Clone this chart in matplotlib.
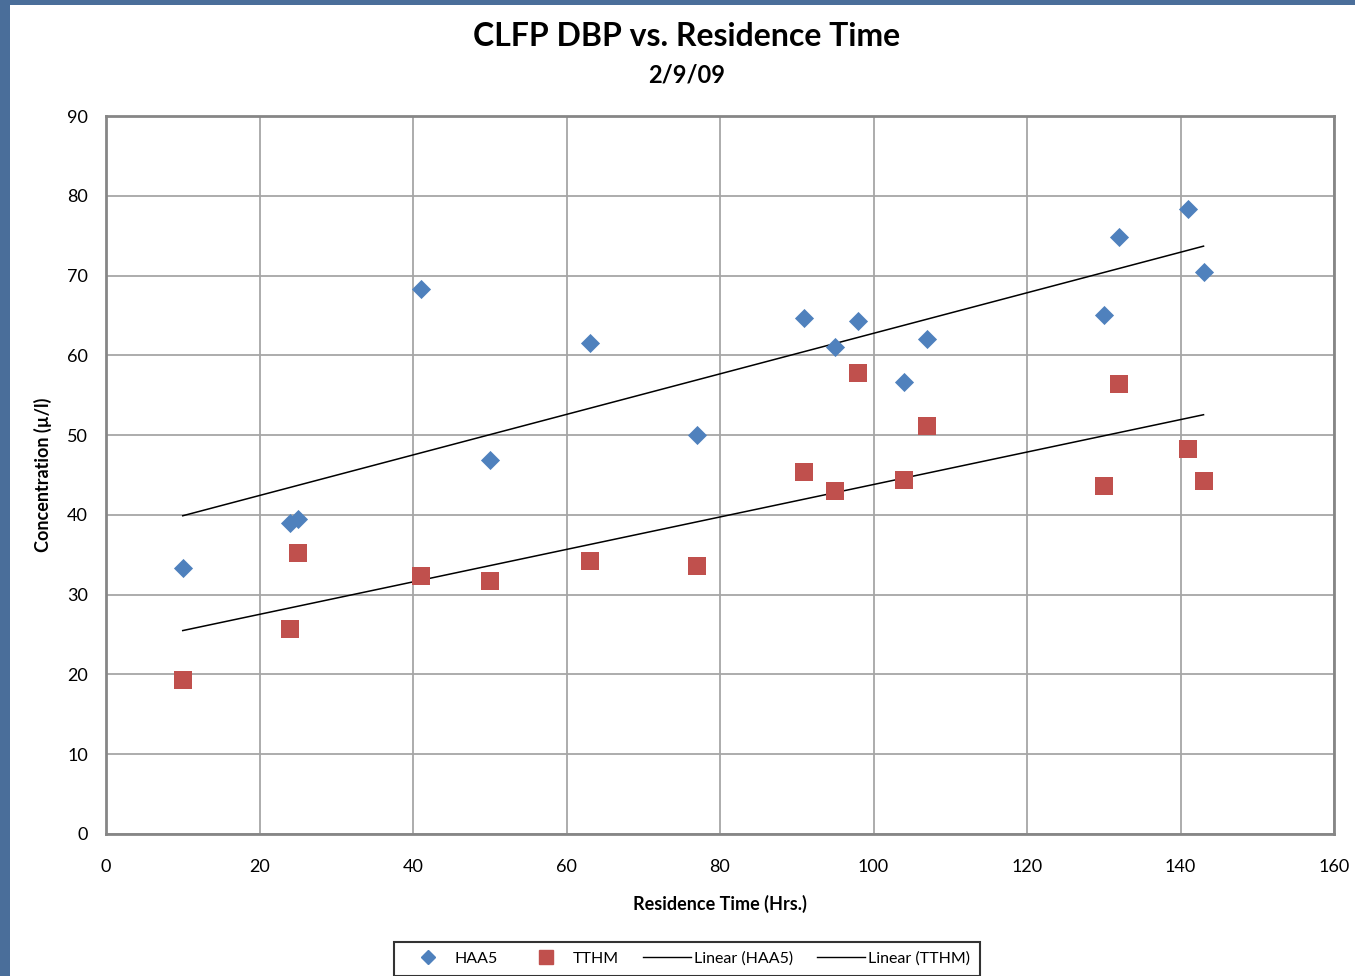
import numpy as np
import matplotlib.pyplot as plt
from matplotlib.lines import Line2D
from matplotlib.patches import Rectangle

plt.rcParams['font.family'] = ['Lato', 'DejaVu Sans']

# residence time (hrs) and concentrations
haa5_x = [10, 24, 25, 41, 50, 63, 77, 91, 95, 98, 104, 107, 130, 132, 141, 143]
haa5_y = [33.3, 39.0, 39.5, 68.3, 46.9, 61.5, 50.0, 64.7, 61.0, 64.3, 56.7, 62.0, 65.1, 74.8, 78.3, 70.4]

tthm_x = [10, 24, 25, 41, 50, 63, 77, 91, 95, 98, 104, 107, 130, 132, 141, 143]
tthm_y = [19.3, 25.7, 35.2, 32.3, 31.7, 34.2, 33.6, 45.4, 43.0, 57.8, 44.4, 51.1, 43.6, 56.4, 48.3, 44.2]

blue = '#4F81BD'
red = '#C0504D'

fig = plt.figure(figsize=(13.55, 9.76), dpi=100)
fig.patch.set_facecolor('#4a6e9a')
fig.patches.append(Rectangle((10/1355, 0), 1, 1 - 5/976, transform=fig.transFigure,
                             facecolor='white', edgecolor='none', zorder=-5))

ax = fig.add_axes([106/1355, 1 - 834/976, (1334-106)/1355, (834-116)/976])
ax.set_facecolor('white')

ax.scatter(haa5_x, haa5_y, marker='D', s=95, color=blue, zorder=3, linewidths=0)
ax.scatter(tthm_x, tthm_y, marker='s', s=180, color=red, zorder=3, linewidths=0)

# linear trendlines
for xs, ys in [(haa5_x, haa5_y), (tthm_x, tthm_y)]:
    m, b = np.polyfit(xs, ys, 1)
    xx = np.array([min(xs), max(xs)])
    ax.plot(xx, m*xx + b, color='black', lw=1.1, zorder=2)

ax.set_xlim(0, 160)
ax.set_ylim(0, 90)
ax.set_xticks(range(0, 161, 20))
ax.set_yticks(range(0, 91, 10))
ax.grid(True, color='#a6a6a6', lw=1.3)
ax.set_axisbelow(True)
for s in ax.spines.values():
    s.set_color('#868686')
    s.set_linewidth(2)
ax.tick_params(length=0, labelsize=13)
ax.tick_params(axis='x', pad=18)
ax.tick_params(axis='y', pad=13)

ax.set_xlabel('Residence Time (Hrs.)', fontsize=13, fontweight='bold', labelpad=14)
ax.set_ylabel('Concentration (µ/l)', fontsize=13, fontweight='bold', labelpad=11)

fig.text(687/1355, 1 - 37/976, 'CLFP DBP vs. Residence Time', fontsize=23, fontweight='bold',
         ha='center', va='center')
fig.text(687/1355, 1 - 75/976, '2/9/09', fontsize=17, fontweight='bold', ha='center', va='center')

handles = [
    Line2D([], [], marker='D', color=blue, ls='none', ms=7),
    Line2D([], [], marker='s', color=red, ls='none', ms=10),
    Line2D([], [], color='black', lw=1),
    Line2D([], [], color='black', lw=1),
]
labels = ['HAA5', 'TTHM', 'Linear (HAA5)', 'Linear (TTHM)']
leg = fig.legend(handles, labels, loc='upper center', bbox_to_anchor=(687/1355, 1 - 942/976),
                 ncol=4, fontsize=11.5, frameon=True, fancybox=False, handlelength=3,
                 columnspacing=1.5, handletextpad=0.2, borderpad=0.6, borderaxespad=0)
leg.get_frame().set_edgecolor('black')
leg.get_frame().set_linewidth(1.5)

fig.savefig('out.png', dpi=100, facecolor=fig.get_facecolor())
